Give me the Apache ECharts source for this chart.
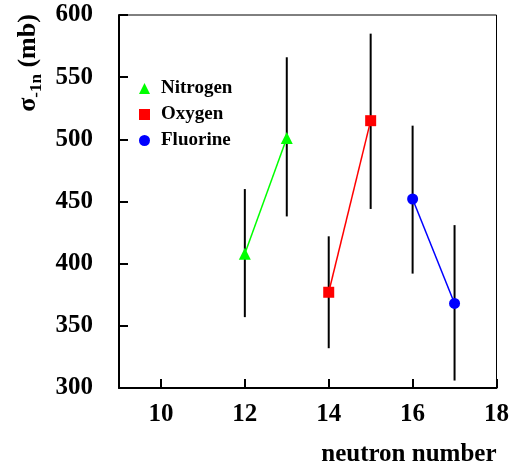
<!DOCTYPE html>
<html>
<head>
<meta charset="utf-8">
<script src="https://cdn.jsdelivr.net/npm/echarts@6/dist/echarts.min.js"></script>
<style>
  html, body { margin: 0; padding: 0; background: #fff; }
  #chart { width: 512px; height: 467px; }
</style>
</head>
<body>
<div id="chart"></div>
<script>
// neutron number, cross section (mb) and error bar ends
var nitrogenN = [12, 13];
var nitrogenVal = [408, 501];
var nitrogenLow = [357, 438];
var nitrogenHigh = [460, 566];

var oxygenN = [14, 15];
var oxygenVal = [377, 515];
var oxygenLow = [332, 444];
var oxygenHigh = [422, 585];

var fluorineN = [16, 17];
var fluorineVal = [452, 368];
var fluorineLow = [392, 306];
var fluorineHigh = [511, 431];

var xTicks = [10, 12, 14, 16, 18];

var serif = "Liberation Serif";

function pairs(xs, ys) {
  return xs.map(function (x, i) { return [x, ys[i]]; });
}

// error bars for all points, drawn under the markers
var errData = [];
[[nitrogenN, nitrogenLow, nitrogenHigh], [oxygenN, oxygenLow, oxygenHigh], [fluorineN, fluorineLow, fluorineHigh]].forEach(function (s) {
  s[0].forEach(function (x, i) { errData.push([x, s[1][i], s[2][i]]); });
});

var myChart = echarts.init(document.getElementById("chart"));
myChart.setOption({
  animation: false,
  grid: { left: 119, right: 14, top: 15, bottom: 73, show: true, borderColor: "#000", borderWidth: 1 },
  legend: {
    orient: "vertical",
    left: 134,
    top: 74,
    itemWidth: 11,
    itemHeight: 11,
    itemGap: 7,
    textStyle: { fontFamily: serif, fontWeight: "bold", fontSize: 19, color: "#000", padding: [0, 0, 7, 6] },
    data: [
      { name: "Nitrogen", icon: "triangle" },
      { name: "Oxygen", icon: "rect" },
      { name: "Fluorine", icon: "circle" }
    ]
  },
  xAxis: {
    type: "value",
    min: 9,
    max: 18,
    name: "neutron number",
    nameLocation: "end",
    nameGap: 0,
    nameTextStyle: { fontFamily: serif, fontWeight: "bold", fontSize: 25, color: "#000", align: "right", verticalAlign: "top", padding: [54, 0, 0, 0] },
    axisLine: { show: true, onZero: false, lineStyle: { color: "#000", width: 2 } },
    axisTick: { show: true, inside: true, length: 9, customValues: xTicks, lineStyle: { color: "#000", width: 2 } },
    axisLabel: { customValues: xTicks, margin: 14, fontFamily: serif, fontWeight: "bold", fontSize: 25, color: "#000" },
    splitLine: { show: false }
  },
  yAxis: {
    type: "value",
    min: 300,
    max: 600,
    interval: 50,
    axisLine: { show: true, onZero: false, lineStyle: { color: "#000", width: 2 } },
    axisTick: { show: true, inside: true, length: 9, lineStyle: { color: "#000", width: 2 } },
    axisLabel: { margin: 26, padding: [5, 0, 0, 0], fontFamily: serif, fontWeight: "bold", fontSize: 25, color: "#000" },
    splitLine: { show: false }
  },
  graphic: [{
    type: "text",
    x: 28,
    y: 63,
    rotation: Math.PI / 2,
    style: {
      text: "{s|σ}{sub|-1n}{s| (mb)}",
      align: "center",
      verticalAlign: "middle",
      fill: "#000",
      rich: {
        s: { fontFamily: serif, fontWeight: "bold", fontSize: 26, lineHeight: 34, verticalAlign: "middle", fill: "#000" },
        sub: { fontFamily: serif, fontWeight: "bold", fontSize: 17, lineHeight: 34, verticalAlign: "bottom", fill: "#000" }
      }
    }
  }],
  series: [
    {
      type: "custom",
      name: "err",
      z: 1,
      data: errData,
      renderItem: function (params, api) {
        var top = api.coord([api.value(0), api.value(2)]);
        var bot = api.coord([api.value(0), api.value(1)]);
        return {
          type: "line",
          shape: { x1: top[0], y1: top[1], x2: bot[0], y2: bot[1] },
          style: { stroke: "#000", lineWidth: 2 }
        };
      }
    },
    {
      name: "Nitrogen",
      type: "line",
      z: 3,
      data: pairs(nitrogenN, nitrogenVal),
      symbol: "triangle",
      symbolSize: 12,
      lineStyle: { color: "#00ff00", width: 1.5 },
      itemStyle: { color: "#00ff00" }
    },
    {
      name: "Oxygen",
      type: "line",
      z: 3,
      data: pairs(oxygenN, oxygenVal),
      symbol: "rect",
      symbolSize: 11,
      lineStyle: { color: "#ff0000", width: 1.5 },
      itemStyle: { color: "#ff0000" }
    },
    {
      name: "Fluorine",
      type: "line",
      z: 3,
      data: pairs(fluorineN, fluorineVal),
      symbol: "circle",
      symbolSize: 11,
      lineStyle: { color: "#0000ff", width: 1.5 },
      itemStyle: { color: "#0000ff" }
    }
  ]
});
</script>
</body>
</html>
